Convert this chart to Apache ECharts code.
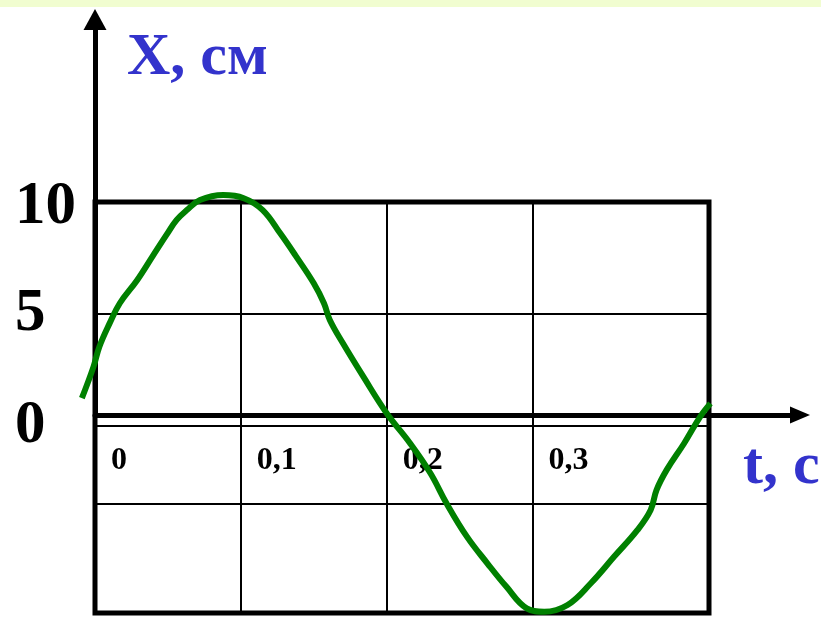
<!DOCTYPE html>
<html>
<head>
<meta charset="utf-8">
<script src="https://cdn.jsdelivr.net/npm/echarts@6/dist/echarts.min.js"></script>
<style>
  html, body { margin: 0; padding: 0; background: #fff; }
  #chart { width: 821px; height: 617px; }
</style>
</head>
<body>
<div id="chart"></div>
<script>
// t, c  ->  X, cm
const timeS = [-0.009, -0.001, 0.003, 0.010, 0.017, 0.029, 0.040, 0.049, 0.056, 0.063,
  0.072, 0.088, 0.102, 0.115, 0.127, 0.138, 0.150, 0.157, 0.161, 0.170,
  0.184, 0.200, 0.216, 0.230, 0.241, 0.255, 0.269, 0.282, 0.296, 0.308,
  0.324, 0.340, 0.356, 0.372, 0.381, 0.385, 0.392, 0.404, 0.415, 0.422]
const displacementCm = [1.24, 2.65, 3.54, 4.58, 5.48, 6.52, 7.63, 8.53, 9.20, 9.64,
  10.09, 10.31, 10.17, 9.64, 8.60, 7.56, 6.37, 5.48, 4.73, 3.69,
  2.20, 0.57, -0.77, -2.11, -3.45, -4.94, -6.13, -7.17, -8.14, -8.29,
  -7.99, -7.02, -5.83, -4.64, -3.75, -2.86, -1.96, -0.77, 0.42, 1.01]

const tTicks = [0, 0.1, 0.2, 0.3]
const tTickLabels = ['0', '0,1', '0,2', '0,3']
const tGridLines = [0.1, 0.2, 0.3]
const xTicks = [0, 5, 10]
const xTickLabels = ['0', '5', '10']
const xGridLines = [-3.45, 0, 5, 10]

const tMax = 0.421
const xMin = -8.35
const xMax = 10
// the curve starts a little before t = 0, so it gets its own wider plot area
const curveTMin = -0.01

const serif = 'Liberation Serif'
const chart = echarts.init(document.getElementById('chart'))

const boxLeft = 95, boxRight = 112
const pxPerSecond = (821 - boxLeft - boxRight) / tMax

const labelOf = (ticks, labels) => v => {
  const i = ticks.findIndex(t => Math.abs(t - v) < 1e-9)
  return i < 0 ? '' : labels[i]
}
const xLabel = labelOf(xTicks, xTickLabels)

const hiddenAxis = {
  axisLine: { show: false }, axisTick: { show: false },
  axisLabel: { show: false }, splitLine: { show: false }
}

const option = {
  animation: false,
  graphic: [{
    type: 'rect',
    shape: { x: 0, y: 0, width: 821, height: 7 },
    style: { fill: '#f1fdd0' },
    silent: true
  }],
  title: [
    {
      text: 'X, см', left: 127, top: 28, padding: 0,
      textStyle: { fontFamily: serif, fontWeight: 'bold', fontSize: 60, color: '#3333cc' }
    },
    {
      text: 't, c', left: 743, top: 437, padding: 0,
      textStyle: { fontFamily: serif, fontWeight: 'bold', fontSize: 60, color: '#3333cc' }
    }
  ],
  grid: [
    // the box with the cells
    { left: boxLeft, right: boxRight, top: 202, bottom: 4, show: true, borderColor: '#000', borderWidth: 5, outerBoundsMode: 'none' },
    // the two arrowed axes
    { left: boxLeft, right: 21, top: 19.5, bottom: 202, outerBoundsMode: 'none' },
    // same scale as the box, widened to the left for the start of the curve
    { left: boxLeft + curveTMin * pxPerSecond, right: boxRight, top: 202, bottom: 4, outerBoundsMode: 'none' }
  ],
  xAxis: [
    {
      gridIndex: 0, type: 'value', min: 0, max: tMax,
      position: 'bottom', offset: -187,
      axisLine: { show: true, onZero: false, lineStyle: { color: '#000', width: 2 } },
      axisTick: { show: false, customValues: tGridLines },
      splitLine: { show: true, lineStyle: { color: '#000', width: 2 } },
      axisLabel: {
        customValues: tTicks, formatter: labelOf(tTicks, tTickLabels),
        align: 'left', padding: [0, 0, 0, 16], margin: 19,
        fontFamily: serif, fontWeight: 'bold', fontSize: 32, color: '#000'
      }
    },
    {
      gridIndex: 1, type: 'value', min: 0, max: 1,
      axisLine: { show: true, symbol: ['none', 'triangle'], symbolSize: [17, 20], lineStyle: { color: '#000', width: 5 } },
      axisTick: { show: false }, axisLabel: { show: false }, splitLine: { show: false }
    },
    { gridIndex: 2, type: 'value', min: curveTMin, max: tMax, ...hiddenAxis }
  ],
  yAxis: [
    {
      gridIndex: 0, type: 'value', min: xMin, max: xMax,
      axisLine: { show: false, onZero: false },
      axisTick: { show: false, customValues: xGridLines },
      splitLine: { show: true, lineStyle: { color: '#000', width: 2 } },
      axisLabel: {
        customValues: xTicks,
        // the top label sits a bit below its line in the picture
        formatter: v => v === xMax ? `{low|${xLabel(v)}}` : xLabel(v),
        rich: { low: { padding: [10, 0, 0, 0], fontFamily: serif, fontWeight: 'bold', fontSize: 61, color: '#000' } },
        align: 'left', margin: 80,
        fontFamily: serif, fontWeight: 'bold', fontSize: 61, color: '#000'
      }
    },
    {
      gridIndex: 1, type: 'value', min: 0, max: 1,
      axisLine: { show: true, symbol: ['none', 'triangle'], symbolSize: [23, 21], lineStyle: { color: '#000', width: 5 } },
      axisTick: { show: false }, axisLabel: { show: false }, splitLine: { show: false }
    },
    { gridIndex: 2, type: 'value', min: xMin, max: xMax, ...hiddenAxis }
  ],
  series: [{
    type: 'line',
    xAxisIndex: 2, yAxisIndex: 2,
    data: timeS.map((t, i) => [t, displacementCm[i]]),
    smooth: 0.4,
    showSymbol: false,
    clip: false,
    lineStyle: { color: '#008000', width: 6 },
    z: 5
  }]
}

chart.setOption(option)
</script>
</body>
</html>
